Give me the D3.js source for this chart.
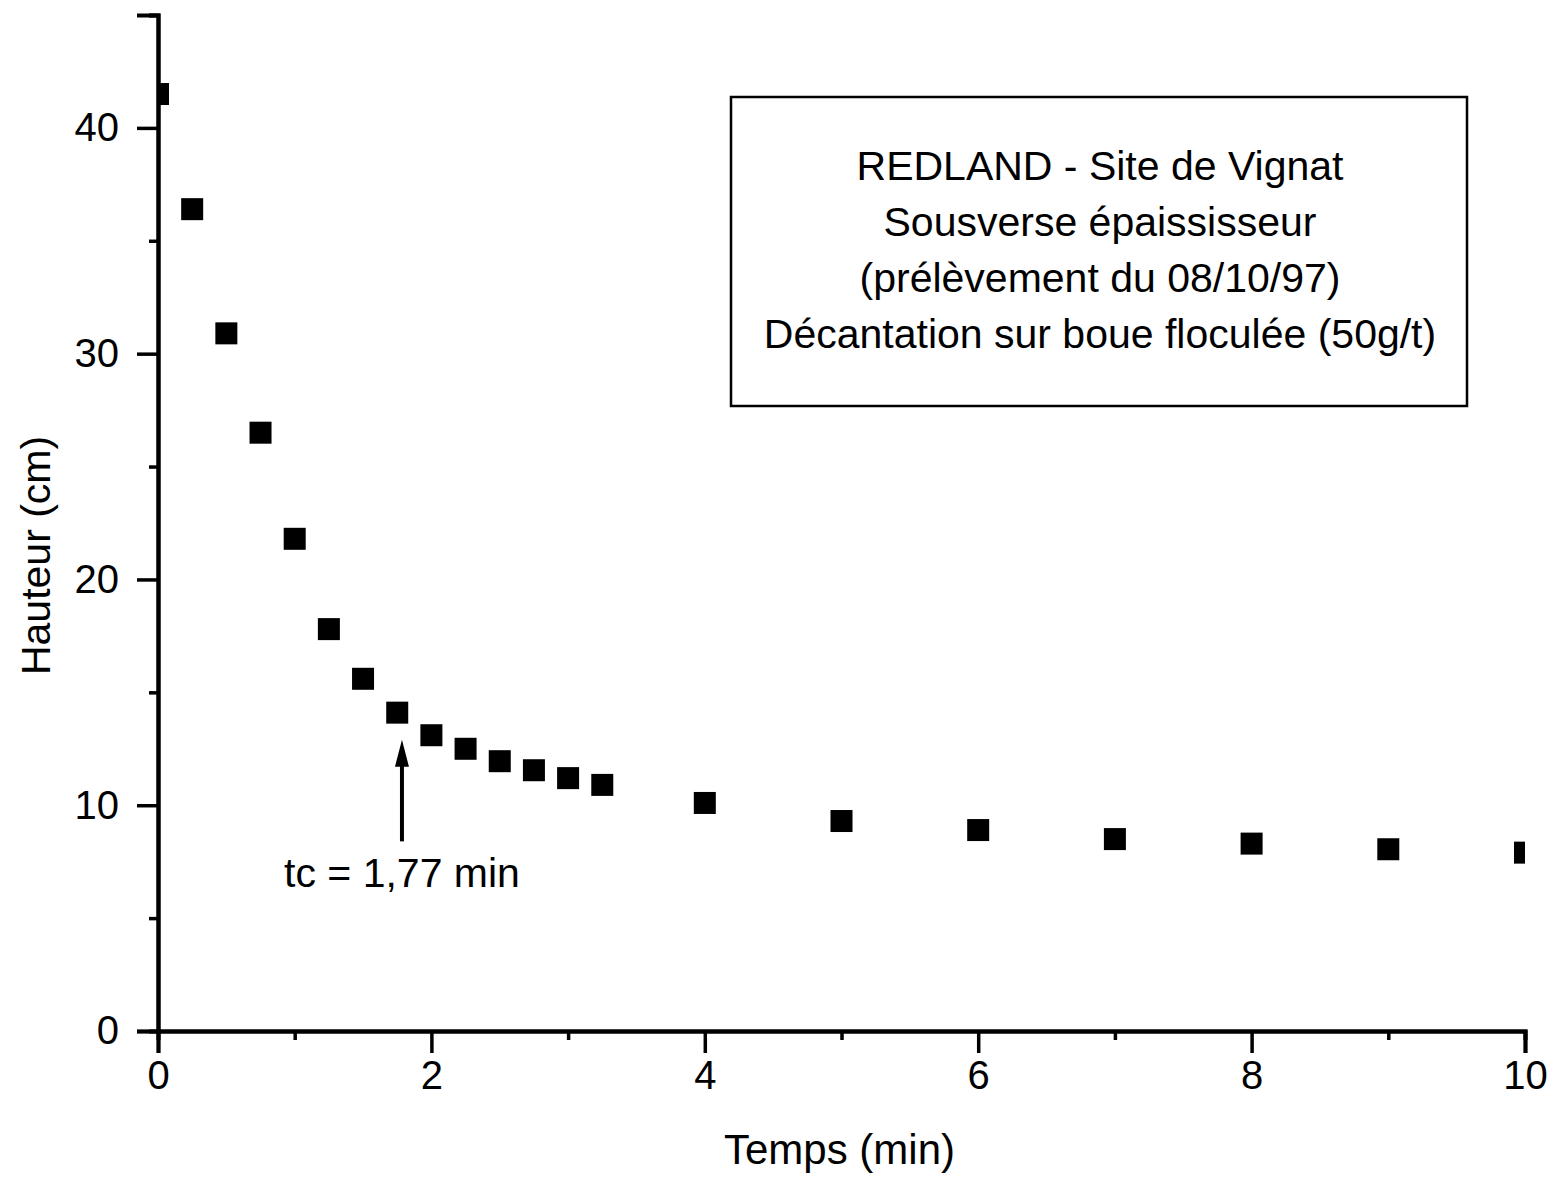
<!DOCTYPE html>
<html>
  <head>
    <title>Décantation - Hauteur vs Temps</title>
    <script src="https://d3js.org/d3.v7.min.js"></script>
    <style>
      body { margin: 0; background: #fff; }
      text { font-family: "Liberation Sans", Arial, sans-serif; fill: #000; }
    </style>
  </head>
  <body>
    <svg id="chart" width="1556" height="1177"></svg>

    <script>
      // temps (min) et hauteur (cm)
      var temps = [0, 0.25, 0.5, 0.75, 1, 1.25, 1.5, 1.75, 2, 2.25, 2.5, 2.75, 3, 3.25, 4, 5, 6, 7, 8, 9, 10];
      var hauteur = [41.5, 36.4, 30.9, 26.5, 21.8, 17.8, 15.6, 14.1, 13.1, 12.5, 11.95, 11.55, 11.2, 10.9, 10.1, 9.3, 8.9, 8.5, 8.3, 8.05, 7.9];
      var xTicks = [0, 2, 4, 6, 8, 10];
      var yTicks = [0, 10, 20, 30, 40];
      var boxLines = [
        "REDLAND - Site de Vignat",
        "Sousverse épaississeur",
        "(prélèvement du 08/10/97)",
        "Décantation sur boue floculée (50g/t)"
      ];
      var tc = 1.77;
      var tcLabel = "tc = 1,77 min";

      var margin = {left: 158, top: 15, right: 31, bottom: 146};
      var width = 1556 - margin.left - margin.right;
      var height = 1177 - margin.top - margin.bottom;

      var svg = d3.select("#chart");
      var g = svg.append("g").attr("transform", "translate(" + margin.left + "," + margin.top + ")");

      var x = d3.scaleLinear().domain([0, 10]).range([0, width]);
      var y = d3.scaleLinear().domain([0, 45]).range([height, 0]);

      g.append("clipPath").attr("id", "plot")
        .append("rect").attr("x", 0).attr("y", 0).attr("width", width).attr("height", height);

      // points
      var pts = temps.map((t, i) => ({t: t, h: hauteur[i]}));
      var s = 22;
      g.append("g").attr("clip-path", "url(#plot)")
        .selectAll("rect")
        .data(pts)
        .enter()
        .append("rect")
        .attr("x", d => x(d.t) - s / 2)
        .attr("y", d => y(d.h) - s / 2)
        .attr("width", s)
        .attr("height", s)
        .style("fill", "#000");

      // axes
      var xMinor = d3.axisBottom(x).tickValues([1, 3, 5, 7, 9]).tickSize(9).tickFormat("");
      var xMajor = d3.axisBottom(x).tickValues(xTicks).tickSize(22).tickPadding(8).tickFormat(d3.format("d"));
      var yMinor = d3.axisLeft(y).tickValues([5, 15, 25, 35, 45]).tickSize(9).tickFormat("");
      var yMajor = d3.axisLeft(y).tickValues(yTicks).tickSize(21).tickPadding(18).tickFormat(d3.format("d"));

      [g.append("g").attr("transform", "translate(0," + height + ")").call(xMinor),
       g.append("g").attr("transform", "translate(0," + height + ")").call(xMajor),
       g.append("g").call(yMinor),
       g.append("g").call(yMajor)].forEach(a => {
        a.select(".domain").style("stroke", "#000").style("stroke-width", 4);
        a.selectAll(".tick line").style("stroke", "#000").style("stroke-width", 3.5);
        a.selectAll(".tick text").style("font-size", "40px").style("font-family", "'Liberation Sans', Arial, sans-serif");
      });

      // axis titles
      g.append("text")
        .attr("x", width / 2 - 2)
        .attr("y", height + 133)
        .attr("text-anchor", "middle")
        .style("font-size", "42px")
        .text("Temps (min)");

      g.append("text")
        .attr("transform", "translate(-108," + (y(20) - 24) + ") rotate(-90)")
        .attr("text-anchor", "middle")
        .style("font-size", "41px")
        .text("Hauteur (cm)");

      // arrow tc
      var ax = x(tc) + 2;
      var yTip = y(12.9), yBase = y(8.4);
      g.append("line")
        .attr("x1", ax).attr("x2", ax)
        .attr("y1", yBase).attr("y2", yTip + 20)
        .style("stroke", "#000").style("stroke-width", 4);
      g.append("path")
        .attr("d", d3.line()([[ax, yTip], [ax - 7, yTip + 27], [ax + 7, yTip + 27]]) + "Z")
        .style("fill", "#000");

      g.append("text")
        .attr("x", x(tc) + 2)
        .attr("y", yBase + 46)
        .attr("text-anchor", "middle")
        .style("font-size", "41px")
        .text(tcLabel);

      // annotation box
      var box = svg.append("g");
      box.append("rect")
        .attr("x", 731).attr("y", 97)
        .attr("width", 736).attr("height", 309)
        .style("fill", "none").style("stroke", "#000").style("stroke-width", 2.5);

      box.selectAll("text")
        .data(boxLines)
        .enter()
        .append("text")
        .attr("x", 1100)
        .attr("y", (d, i) => 180 + i * 56)
        .attr("text-anchor", "middle")
        .style("font-size", "41px")
        .text(d => d);
    </script>
  </body>
</html>
